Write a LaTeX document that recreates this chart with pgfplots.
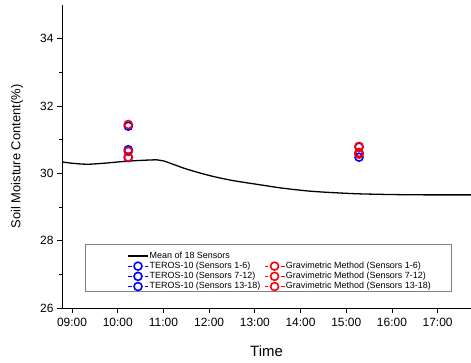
\documentclass[border=0pt]{standalone}
\usepackage{pgfplots}
\pgfplotsset{compat=1.18}
\usepackage{fontspec}
\setmainfont{Liberation Sans}
\begin{document}
\begin{tikzpicture}
\begin{axis}[
  scale only axis, width=409bp, height=303bp,
  xmin=8.78, xmax=17.73, ymin=26, ymax=35,
  axis x line*=bottom, axis y line*=left, axis line style={-, line width=0.8pt},
  tick align=outside, major tick length=5bp, minor tick length=3bp,
  tick style={line width=0.8pt, black},
  xtick={9,10,11,12,13,14,15,16,17},
  xticklabels={09:00,10:00,11:00,12:00,13:00,14:00,15:00,16:00,17:00},
  ytick={26,28,30,32,34}, minor y tick num=1, minor x tick num=0,
  /pgf/number format/assume math mode=true,
  ticklabel style={font=\fontsize{12}{14}\selectfont},
  xticklabel style={yshift=-2bp},
  xlabel={Time}, ylabel={Soil Moisture Content(\%)},
  every axis x label/.style={at={(axis description cs:0.5,0)}, yshift=-43bp, anchor=center, font=\fontsize{15}{17}\selectfont},
  every axis y label/.style={at={(axis description cs:0,0.5)}, xshift=-45bp, anchor=center, rotate=90, font=\fontsize{13}{15}\selectfont},
  legend columns=2,
  legend cell align=left,
  legend style={at={(rel axis cs:0.056,0.053)}, anchor=south west, draw=gray, line width=0.6pt,
    font=\fontsize{9}{10}\selectfont, inner xsep=19bp, inner ysep=0bp, row sep=0bp,
    nodes={inner xsep=1bp, inner ysep=0.75bp, text height=6.6bp, text depth=2.1bp},
    /tikz/every even column/.append style={column sep=3bp}},
  clip=false,
]
\addplot[black, line width=1.3pt, smooth, legend image code/.code={\path (-23bp,0bp) (0bp,11bp); \draw[black,line width=1.3pt] (0bp,0bp)--(20bp,0bp);}] coordinates {
(8.78,30.34) (9.0,30.30) (9.33,30.27) (9.7,30.30) (10.2,30.36) (10.6,30.39) (10.86,30.40) (11.0,30.37)
(11.25,30.25) (11.52,30.12) (12.02,29.93) (12.5,29.79) (13.11,29.66) (13.6,29.56) (14.21,29.47)
(14.8,29.42) (15.30,29.39) (16.0,29.37) (16.77,29.36) (17.73,29.36)};
\addlegendentry{Mean of 18 Sensors}
\addlegendimage{empty legend}\addlegendentry{}
\pgfplotsset{circ/.style={only marks, mark=o, mark size=4bp, line width=1.6pt,
  legend image code/.code={\draw[##1, mark=none, line width=0.6pt] (0bp,0bp)--(3.5bp,0bp); \draw[##1, mark=none, line width=0.6pt] (16.5bp,0bp)--(20bp,0bp); \draw[##1] plot coordinates {(10bp,0bp)};}},
  circL/.style={circ, legend image code/.code={\path (-23bp,0bp); \draw[##1, mark=none, line width=0.6pt] (0bp,0bp)--(3.5bp,0bp); \draw[##1, mark=none, line width=0.6pt] (16.5bp,0bp)--(20bp,0bp); \draw[##1] plot coordinates {(10bp,0bp)};}}}
\addplot[circL, blue] coordinates {(10.23,31.40) (15.28,30.78)};
\addlegendentry{TEROS-10 (Sensors 1-6)}
\addplot[circ, red] coordinates {(10.23,31.45) (15.28,30.80)};
\addlegendentry{Gravimetric Method (Sensors 1-6)}
\addplot[circL, blue] coordinates {(10.23,30.70) (15.28,30.58)};
\addlegendentry{TEROS-10 (Sensors 7-12)}
\addplot[circ, red] coordinates {(10.23,30.65) (15.28,30.62)};
\addlegendentry{Gravimetric Method (Sensors 7-12)}
\addplot[circL, blue] coordinates {(10.23,30.47) (15.28,30.48)};
\addlegendentry{TEROS-10 (Sensors 13-18)}
\addplot[circ, red] coordinates {(10.23,30.48) (15.28,30.57)};
\addlegendentry{Gravimetric Method (Sensors 13-18)}
\end{axis}
\pgfresetboundingbox
\path[use as bounding box] ([xshift=-62bp,yshift=-55bp]current axis.south west) rectangle ([yshift=5bp]current axis.north east);
\end{tikzpicture}
\end{document}
